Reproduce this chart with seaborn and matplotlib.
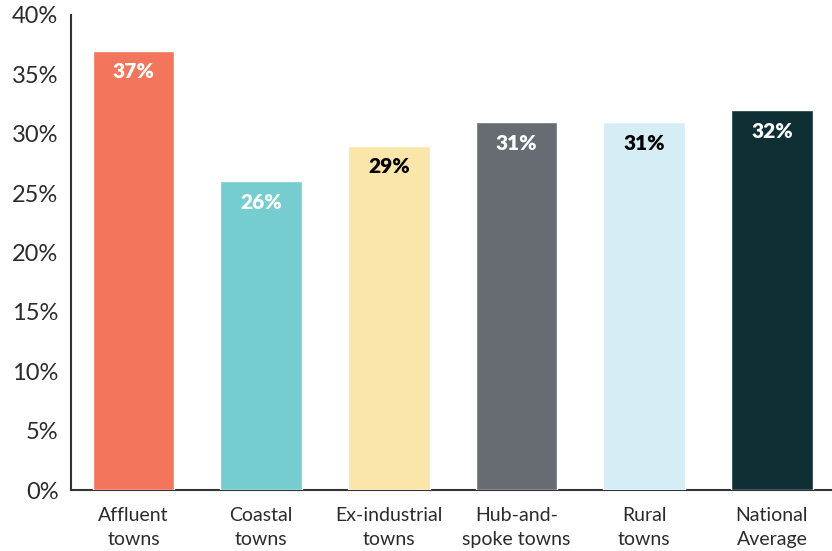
import matplotlib
matplotlib.use("Agg")
import matplotlib.pyplot as plt
import seaborn as sns
import pandas as pd

# chart data
categories = ["Affluent\ntowns", "Coastal\ntowns", "Ex-industrial\ntowns",
              "Hub-and-\nspoke towns", "Rural\ntowns", "National\nAverage"]
values = [37, 26, 29, 31, 31, 32]
bar_colors = ["#F3755C", "#75CDCF", "#FAE6AA", "#676B72", "#D5EDF4", "#0E3035"]
label_colors = ["white", "white", "black", "white", "black", "white"]
y_ticks = [0, 5, 10, 15, 20, 25, 30, 35, 40]

df = pd.DataFrame({"group": categories, "share": values})

sns.set_style("white")
plt.rcParams["font.family"] = ["Lato", "DejaVu Sans"]

fig = plt.figure(figsize=(8.32, 5.51), dpi=100)
ax = fig.add_axes([0.0853, 0.1107, 0.9147, 0.8621])

sns.barplot(data=df, x="group", y="share", hue="group", palette=bar_colors,
            legend=False, width=0.64, saturation=1, ax=ax, zorder=3)

# value labels inside the top of each bar
for patch, val, col in zip(ax.patches, values, label_colors):
    ax.text(patch.get_x() + patch.get_width() / 2, val - 1.8, f"{val}%",
            ha="center", va="center", color=col, fontsize=15, fontweight="heavy",
            zorder=4)

ax.set_ylim(0, 40)
ax.set_xlim(-0.49, len(categories) - 0.53)
ax.set_yticks(y_ticks)
ax.set_yticklabels([f"{t}%" for t in y_ticks], fontsize=17, color="#2b2b2b")
ax.set_xticks(range(len(categories)))
ax.set_xticklabels(categories, fontsize=14, color="#2b2b2b", linespacing=1.55)
ax.set_xlabel("")
ax.set_ylabel("")

# x ticks sit between bars, labels stay centred
ax.set_xticks([i + 0.5 for i in range(len(categories) - 1)], minor=True)
ax.tick_params(axis="x", which="major", length=0, pad=12)
ax.tick_params(axis="x", which="minor", direction="in", length=9, width=1.5,
               color="#333333")
ax.tick_params(axis="y", direction="in", length=15, width=1.5, color="#333333",
               pad=9)

for side in ["top", "right"]:
    ax.spines[side].set_visible(False)
for side in ["left", "bottom"]:
    ax.spines[side].set_color("#333333")
    ax.spines[side].set_linewidth(1.5)
    ax.spines[side].set_zorder(2)

fig.savefig("out.png", dpi=100)
